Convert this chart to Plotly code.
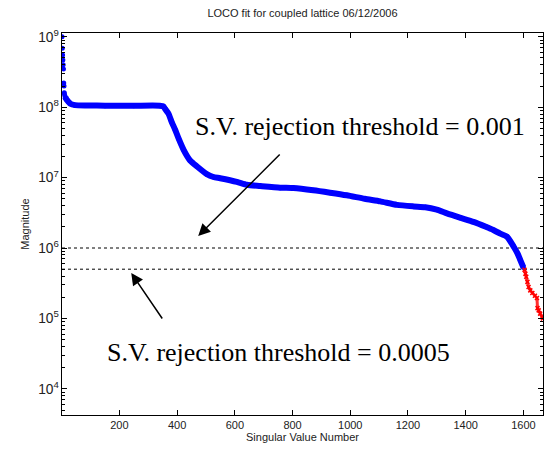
import plotly.graph_objects as go

# Singular value spectrum
head_idx = [1, 2, 3, 4, 5, 6, 7, 8, 9, 10]
head_val = [1.0e9, 6.9e8, 5.5e8, 4.7e8, 4.0e8, 3.5e8, 2.2e8, 2.0e8, 1.6e8, 1.5e8]

body_idx = [12, 16, 23, 30, 46, 92, 150, 250, 340, 352, 358, 370, 381, 393, 405,
            422, 445, 468, 503, 526, 549, 607, 642, 688, 757, 803, 872, 930, 988,
            1050, 1104, 1162, 1220, 1260, 1300, 1335, 1380, 1427, 1470, 1496, 1520, 1543,
            1566, 1580, 1589, 1600]
body_val = [1.4e8, 1.3e8, 1.2e8, 1.12e8, 1.07e8, 1.06e8, 1.05e8, 1.05e8, 1.05e8, 1.03e8,
            9.5e7, 8.1e7, 6.2e7, 4.8e7, 3.6e7, 2.5e7, 1.75e7, 1.45e7, 1.12e7, 1.02e7,
            9.8e6, 8.7e6, 7.9e6, 7.6e6, 7.2e6, 7.1e6, 6.6e6, 6.1e6, 5.6e6, 5.0e6,
            4.6e6, 4.1e6, 3.9e6, 3.8e6, 3.5e6, 3.1e6, 2.7e6, 2.35e6, 2.0e6, 1.8e6, 1.6e6,
            1.45e6, 1.05e6, 8.3e5, 6.8e5, 5.3e5]

rej_idx = [1604, 1607, 1610, 1614, 1618, 1624, 1631, 1640, 1647, 1649, 1653, 1658, 1664, 1668]
rej_val = [4.9e5, 4.3e5, 3.9e5, 3.3e5, 2.8e5, 2.5e5, 2.3e5, 2.1e5, 1.95e5, 1.4e5,
           1.3e5, 1.17e5, 1.05e5, 1.0e5]

sv_max = 1.0e9
thresholds = [0.001, 0.0005]
x_limits = [1, 1668]
x_tickvals = [200, 400, 600, 800, 1000, 1200, 1400, 1600]

BLUE = "#0000ff"
RED = "#ff0000"
Y_RANGE = [3.628, 9.054]

fig = go.Figure()

for t in thresholds:
    fig.add_trace(go.Scatter(x=x_limits, y=[sv_max * t] * 2, mode="lines",
                             line=dict(color="black", width=1, dash="3px,3px"),
                             hoverinfo="skip", showlegend=False))

fig.add_trace(go.Scatter(x=head_idx, y=head_val, mode="markers",
                         marker=dict(color=BLUE, size=5), showlegend=False))
fig.add_trace(go.Scatter(x=body_idx, y=body_val, mode="lines+markers",
                         line=dict(color=BLUE, width=6, shape="spline", smoothing=0.6),
                         marker=dict(color=BLUE, size=5), showlegend=False))
fig.add_trace(go.Scatter(x=rej_idx, y=rej_val, mode="lines+markers",
                         line=dict(color="#ff3030", width=3),
                         marker=dict(color=RED, size=4, symbol="x-thin",
                                     line=dict(color=RED, width=1.5)),
                         showlegend=False))

font_axis = dict(family="Liberation Sans, Arial", size=11, color="#222")
axis_common = dict(showline=True, linecolor="black", linewidth=1, mirror="ticks",
                   ticks="inside", ticklen=5, tickwidth=1, tickcolor="black", showgrid=False,
                   zeroline=False, tickfont=font_axis)

fig.update_xaxes(range=x_limits, tickvals=x_tickvals,
                 title=dict(text="Singular Value Number", standoff=2, font=font_axis),
                 **axis_common)
fig.update_yaxes(type="log", range=Y_RANGE, dtick=1, tick0=0,
                 exponentformat="power", showexponent="all",
                 minor=dict(ticks="inside", ticklen=3, tickwidth=1, tickcolor="black",
                            dtick="D1", showgrid=False),
                 title=dict(text="Magnitude", standoff=6, font=font_axis),
                 **axis_common)

serif = dict(family="Liberation Serif, Times New Roman", size=26, color="black")
fig.add_annotation(x=455, y=7.72, xref="x", yref="y", text="S.V. rejection threshold = 0.001",
                   showarrow=False, xanchor="left", yanchor="middle", font=serif)
fig.add_annotation(x=151, y=4.52, xref="x", yref="y", text="S.V. rejection threshold = 0.0005",
                   showarrow=False, xanchor="left", yanchor="middle", font=serif)
fig.add_annotation(x=473, y=6.17, xref="x", yref="y", text="", showarrow=True,
                   ax=83, ay=-83, arrowhead=2, arrowsize=1.6, arrowwidth=1.5, arrowcolor="black")
fig.add_annotation(x=241, y=5.645, xref="x", yref="y", text="", showarrow=True,
                   ax=32, ay=47, arrowhead=2, arrowsize=1.6, arrowwidth=1.5, arrowcolor="black")

fig.update_layout(
    width=545, height=454,
    margin=dict(l=62, r=2, t=33, b=39),
    paper_bgcolor="white", plot_bgcolor="white",
    title=dict(text="LOCO fit for coupled lattice 06/12/2006", x=0.555, xanchor="center",
               y=0.97, yanchor="middle", font=font_axis),
)

fig.write_html("out.html")
